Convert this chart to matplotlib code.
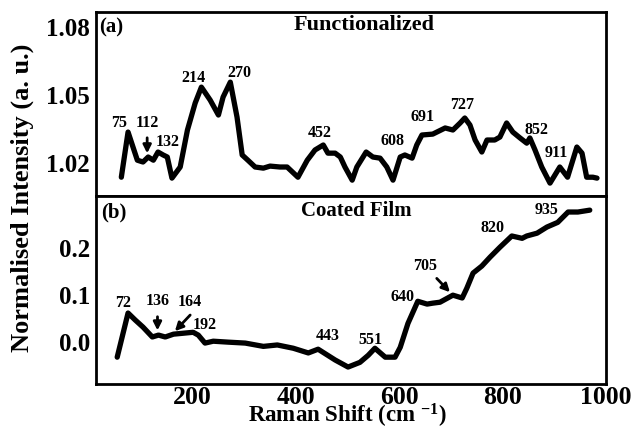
import matplotlib.pyplot as plt
import numpy as np

plt.rcParams['font.family'] = 'Liberation Serif'
plt.rcParams['font.weight'] = 'bold'
plt.rcParams['mathtext.default'] = 'regular'

# (a) Functionalized
x_func = [62, 75, 93, 104, 114, 124, 133, 143, 151, 160, 176, 190, 205, 217, 234, 250,
          259, 273, 286, 296, 307, 321, 337, 350, 369, 383, 404, 422, 437, 453, 462, 476,
          486, 495, 509, 518, 536, 549, 563, 576, 588, 602, 611, 625, 634, 644, 665, 673,
          689, 704, 718, 727, 737, 747, 760, 770, 785, 795, 808, 820, 834, 847, 853, 863,
          876, 892, 911, 926, 944, 954, 963, 975, 983]
y_func = [1.0138, 1.0337, 1.0213, 1.0205, 1.0227, 1.0213, 1.0249, 1.0236, 1.0227, 1.0134,
          1.0183, 1.0346, 1.0465, 1.0535, 1.0478, 1.0412, 1.0491, 1.0557, 1.0403, 1.0236,
          1.0213, 1.0183, 1.0178, 1.0187, 1.0183, 1.0183, 1.0138, 1.0213, 1.0258, 1.0280,
          1.0244, 1.0244, 1.0227, 1.0183, 1.0125, 1.0183, 1.0249, 1.0227, 1.0222, 1.0183,
          1.0125, 1.0227, 1.0236, 1.0222, 1.0280, 1.0324, 1.0328, 1.0337, 1.0355, 1.0346,
          1.0377, 1.0399, 1.0368, 1.0302, 1.0249, 1.0302, 1.0302, 1.0315, 1.0377, 1.0337,
          1.0311, 1.0288, 1.0311, 1.0258, 1.0183, 1.0112, 1.0183, 1.0138, 1.0271, 1.0244,
          1.0138, 1.0138, 1.0134]

# (b) Coated film
x_film = [54, 75, 89, 104, 122, 134, 147, 163, 182, 201, 211, 224, 240, 269, 302, 337,
          364, 395, 424, 443, 476, 501, 524, 540, 553, 573, 592, 602, 617, 636, 654, 665,
          679, 704, 722, 731, 743, 760, 776, 795, 818, 838, 847, 867, 886, 907, 927, 946, 969]
y_film = [-0.032, 0.062, 0.047, 0.032, 0.011, 0.015, 0.011, 0.017, 0.019, 0.021, 0.015,
          -0.002, 0.002, 0.000, -0.002, -0.009, -0.006, -0.013, -0.023, -0.015, -0.038,
          -0.053, -0.043, -0.028, -0.013, -0.032, -0.032, -0.011, 0.040, 0.087, 0.081,
          0.083, 0.085, 0.100, 0.094, 0.115, 0.147, 0.162, 0.181, 0.202, 0.226, 0.221,
          0.226, 0.232, 0.245, 0.255, 0.277, 0.277, 0.281]

# peak labels: text, label position
labels_func = [('75', 58, 1.0377), ('112', 112, 1.0377), ('132', 151, 1.0293),
               ('214', 201, 1.0575), ('270', 290, 1.0597), ('452', 447, 1.0333),
               ('608', 588, 1.0297), ('691', 646, 1.0403), ('727', 721, 1.0456),
               ('852', 865, 1.0346), ('911', 905, 1.0244)]
labels_film = [('72', 66, 0.083), ('136', 132, 0.087), ('164', 195, 0.085),
               ('192', 224, 0.036), ('443', 462, 0.013), ('551', 544, 0.004),
               ('640', 607, 0.096), ('705', 650, 0.162), ('820', 781, 0.243),
               ('935', 886, 0.281)]

fig = plt.figure(figsize=(6.33, 4.29), dpi=100)
ax1 = fig.add_axes([0.1517, 0.543, 0.8053, 0.429])
ax2 = fig.add_axes([0.1517, 0.105, 0.8053, 0.438])

ax1.plot(x_func, y_func, color='black', lw=3.8, solid_joinstyle='round', solid_capstyle='round')
ax2.plot(x_film, y_film, color='black', lw=3.8, solid_joinstyle='round', solid_capstyle='round')

ax1.set_xlim(13, 1000)
ax2.set_xlim(13, 1000)
ax1.set_ylim(1.0055, 1.0866)
ax2.set_ylim(-0.089, 0.311)

ax1.set_yticks([1.02, 1.05, 1.08])
ax1.set_yticklabels(['1.02', '1.05', '1.08'])
ax1.set_xticks([])
ax2.set_yticks([0.0, 0.1, 0.2])
ax2.set_yticklabels(['0.0', '0.1', '0.2'])
ax2.set_xticks([200, 400, 600, 800, 1000])

for ax in (ax1, ax2):
    for s in ax.spines.values():
        s.set_linewidth(2)
    ax.tick_params(length=0, labelsize=18, pad=4.5)
ax2.tick_params(axis='x', labelsize=18.5, pad=1.5)

for t, x, y in labels_func:
    ax1.text(x, y, t, fontsize=11.5, fontweight='bold', ha='center', va='center')
for t, x, y in labels_film:
    ax2.text(x, y, t, fontsize=11.5, fontweight='bold', ha='center', va='center')

arrow = dict(arrowstyle='-|>', lw=2, color='black', mutation_scale=12)
ax1.annotate('', xy=(112, 1.0231), xytext=(112, 1.0324), arrowprops=arrow)
ax2.annotate('', xy=(132, 0.019), xytext=(132, 0.060), arrowprops=arrow)
ax2.annotate('', xy=(162, 0.019), xytext=(199, 0.062), arrowprops=arrow)
ax2.annotate('', xy=(702, 0.102), xytext=(669, 0.140), arrowprops=arrow)

ax1.text(0.006, 0.916, '(a)', transform=ax1.transAxes, fontsize=15, fontweight='bold',
         ha='left', va='center')
ax2.text(0.01, 0.91, '(b)', transform=ax2.transAxes, fontsize=15, fontweight='bold',
         ha='left', va='center')
ax1.text(0.525, 0.932, 'Functionalized', transform=ax1.transAxes, fontsize=16,
         fontweight='bold', ha='center', va='center')
ax2.text(0.511, 0.92, 'Coated Film', transform=ax2.transAxes, fontsize=15,
         fontweight='bold', ha='center', va='center')

fig.text(0.035, 0.54, 'Normalised Intensity (a. u.)', rotation=90, fontsize=19,
         fontweight='bold', ha='center', va='center')
fig.text(0.548, 0.016, 'Raman Shift (cm $^{-1}$)', fontsize=16.5, fontweight='bold',
         ha='center', va='baseline')

fig.savefig('out.png', dpi=100)
